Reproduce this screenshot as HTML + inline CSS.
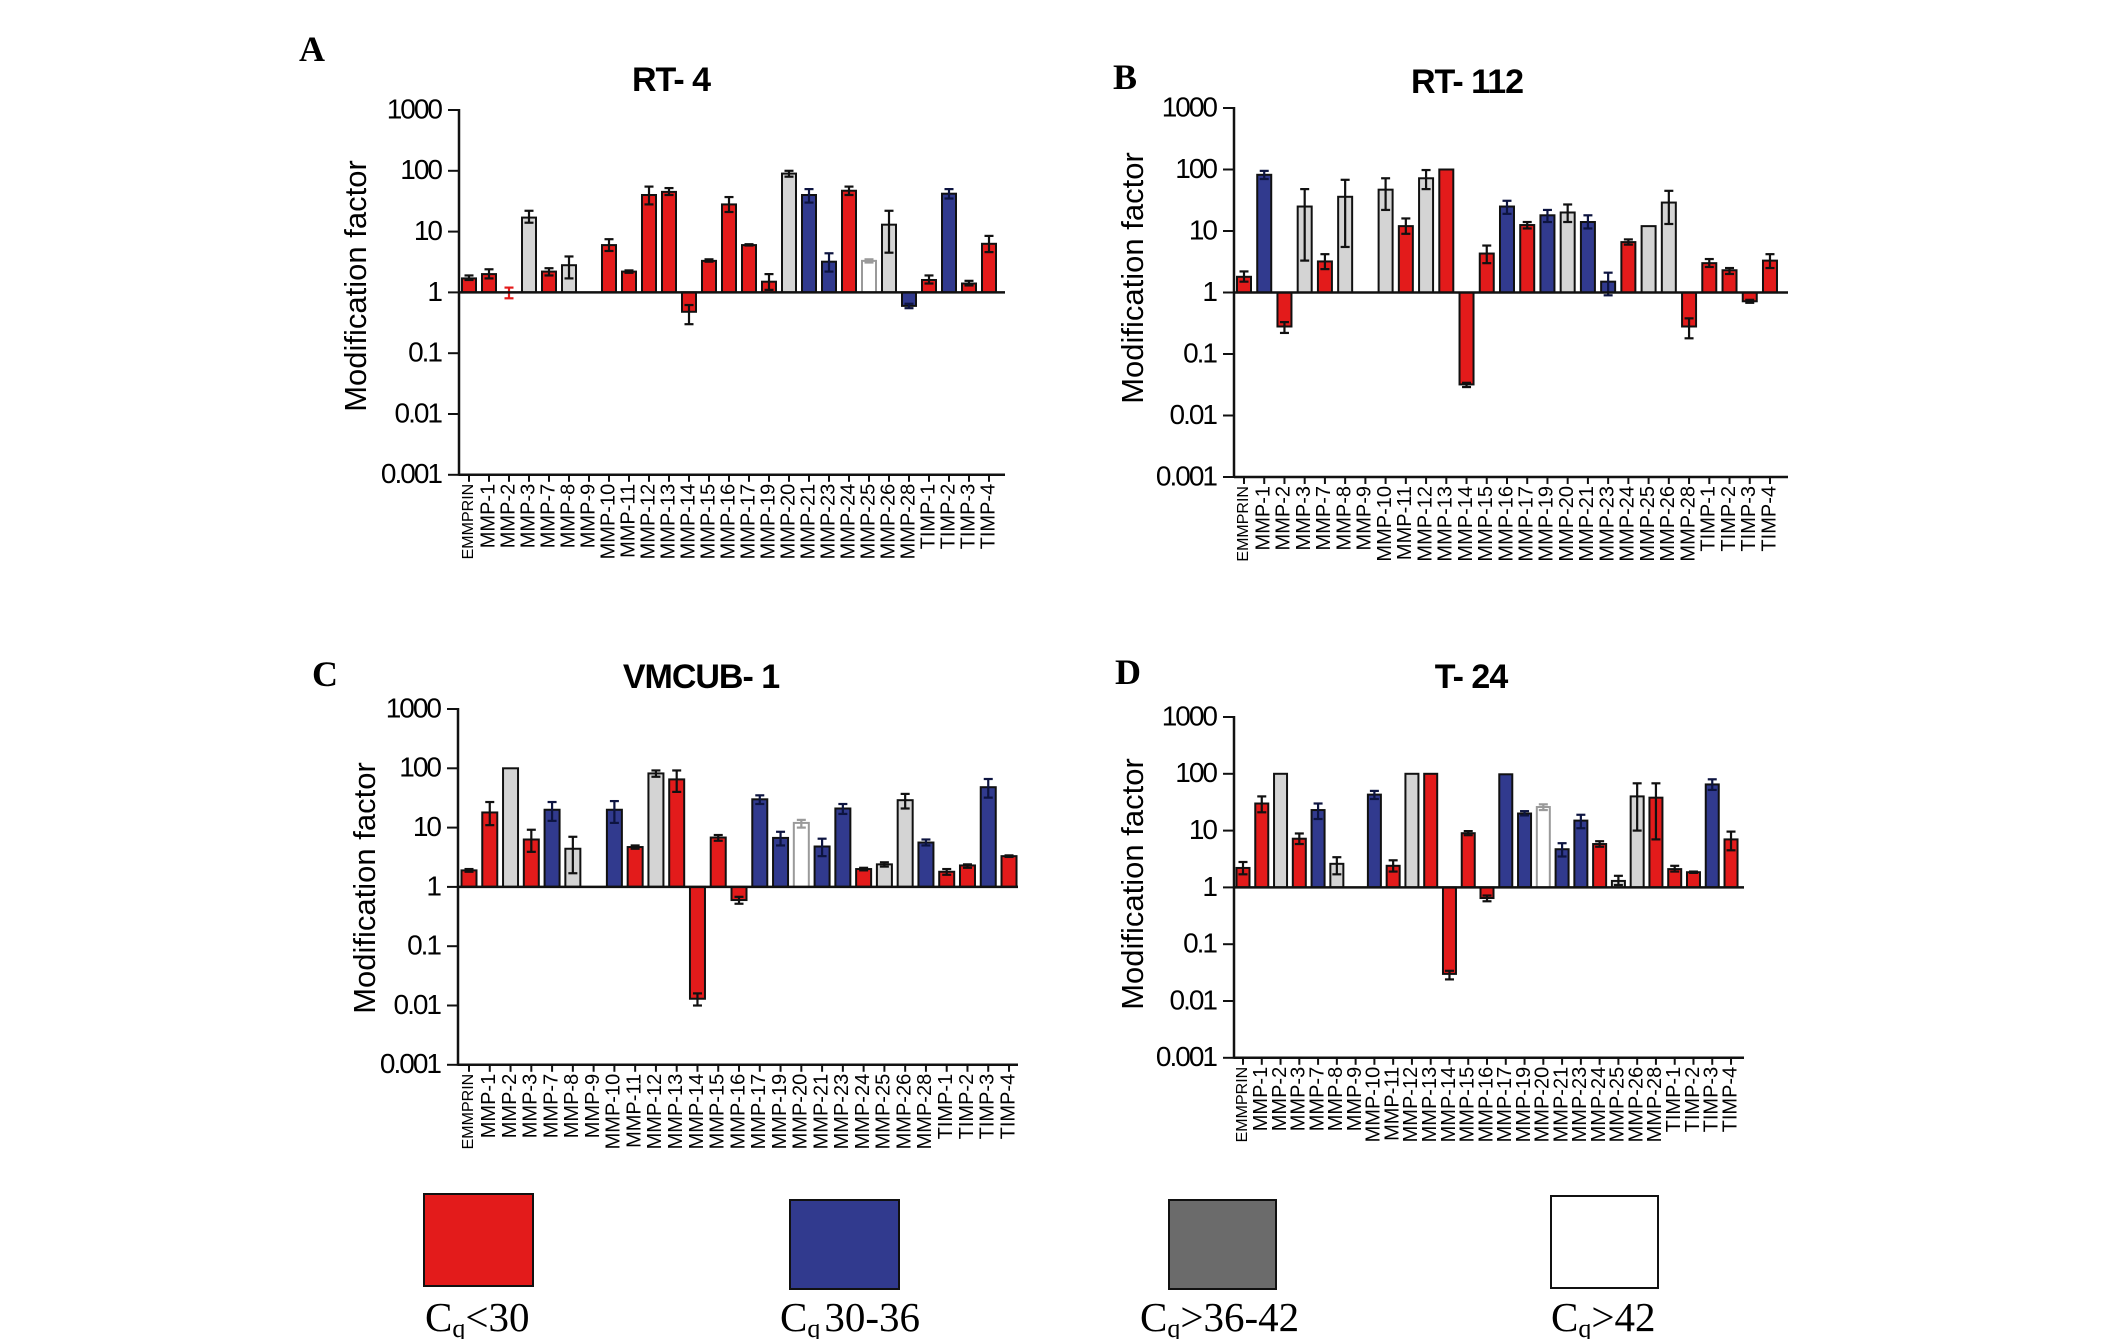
<!DOCTYPE html>
<html><head><meta charset="utf-8">
<style>
html,body{margin:0;padding:0;background:#fff;}
svg{display:block;}
</style></head>
<body>
<svg id="chart" width="2126" height="1339" viewBox="0 0 2126 1339" xmlns="http://www.w3.org/2000/svg">
<g id="panels"></g>
<g font-family="'Liberation Serif', serif" fill="#000">
  <rect x="424" y="1194" width="109" height="92" fill="#e31b1b" stroke="#111" stroke-width="2"/>
  <rect x="790" y="1200" width="109" height="89" fill="#313a8e" stroke="#111" stroke-width="2"/>
  <rect x="1169" y="1200" width="107" height="89" fill="#6b6b6b" stroke="#111" stroke-width="2"/>
  <rect x="1551" y="1196" width="107" height="92" fill="#fff" stroke="#111" stroke-width="2"/>
  <text x="425" y="1331" font-size="41">C<tspan font-size="26" dy="6">q</tspan><tspan dy="-6">&lt;30</tspan></text>
  <text x="780" y="1331" font-size="41">C<tspan font-size="26" dy="6">q</tspan><tspan dy="-6" dx="4">30-36</tspan></text>
  <text x="1140" y="1331" font-size="41">C<tspan font-size="26" dy="6">q</tspan><tspan dy="-6">&gt;36-42</tspan></text>
  <text x="1551" y="1331" font-size="41">C<tspan font-size="26" dy="6">q</tspan><tspan dy="-6">&gt;42</tspan></text>
</g>
</svg>
<script>
const categories = ["EMMPRIN","MMP-1","MMP-2","MMP-3","MMP-7","MMP-8","MMP-9","MMP-10","MMP-11","MMP-12","MMP-13","MMP-14","MMP-15","MMP-16","MMP-17","MMP-19","MMP-20","MMP-21","MMP-23","MMP-24","MMP-25","MMP-26","MMP-28","TIMP-1","TIMP-2","TIMP-3","TIMP-4"];
const yTickValues = [1000,100,10,1,0.1,0.01,0.001];
const yTickLabels = ["1000","100","10","1","0.1","0.01","0.001"];

const valsA = [1.7,2.0,null,17,2.2,2.8,null,6,2.2,40,45,0.48,3.3,28,6,1.5,90,40,3.2,47,3.3,13,0.6,1.6,42,1.4,6.3];
const colsA = ["r","r","r","g","r","g","","r","r","r","r","r","r","r","r","r","g","b","b","r","w","g","b","r","b","r","r"];
const hiA = [1.9,2.4,1.2,22,2.5,3.9,null,7.5,2.3,55,52,0.62,3.5,37,6.2,2,100,50,4.4,55,3.5,22,0.65,1.9,50,1.55,8.5];
const loA = [1.6,1.7,0.8,14,1.9,1.7,null,4.8,2.1,28,40,0.3,3.2,21,5.9,1.1,80,30,2.2,40,3.1,4.5,0.55,1.4,35,1.3,4.6];

const valsB = [1.8,82,0.28,25,3.2,36,null,47,12,72,100,0.032,4.3,25,12.5,18,20,14,1.5,6.6,12,29,0.28,3,2.3,0.72,3.3];
const colsB = ["r","b","r","g","r","g","","g","r","g","r","r","r","b","r","b","g","b","b","r","g","g","r","r","r","r","r"];
const hiB = [2.2,95,0.33,48,4.2,68,null,72,16,98,100,0.034,5.8,31,14,22,27,18,2.1,7.3,12,45,0.38,3.5,2.5,0.76,4.2];
const loB = [1.5,70,0.22,3.3,2.4,5.5,null,22,9,48,100,0.029,3,19,11,14,14,11,0.9,6,12,13,0.18,2.6,2,0.68,2.5];

const valsC = [1.9,18,100,6.3,20,4.4,null,20,4.7,82,65,0.013,6.8,0.6,30,6.7,12,4.8,21,2,2.4,29,5.6,1.8,2.3,48,3.3];
const colsC = ["r","r","g","r","b","g","","b","r","g","r","r","r","r","b","b","w","b","b","r","g","g","b","r","r","b","r"];
const hiC = [2,27,100,9.2,27,7,null,28,5,92,92,0.016,7.5,0.68,35,8.5,13.5,6.5,25,2.1,2.6,37,6.3,2,2.4,66,3.4];
const loC = [1.8,11,100,3.9,13,1.7,null,12,4.4,72,40,0.010,6,0.52,25,5,10,3.3,17,1.9,2.2,21,5,1.6,2.1,32,3.2];

const valsD = [2.2,30,100,7.2,23,2.6,null,43,2.4,100,100,0.03,9,0.65,98,20,26,4.7,15,5.8,1.3,40,38,2.1,1.85,65,7];
const colsD = ["r","r","g","r","b","g","","b","r","g","r","r","r","r","b","b","w","b","b","r","g","g","r","r","r","b","r"];
const hiD = [2.8,40,100,8.9,30,3.4,null,50,3,100,100,0.034,9.8,0.72,98,22,29,6,19,6.5,1.6,68,68,2.4,1.9,80,9.6];
const loD = [1.7,21,100,5.8,16,1.7,null,36,1.9,100,100,0.024,8.3,0.57,98,18.5,23,3.5,11,5.2,1.1,10,7,1.9,1.8,52,4.5];

const panelTitles = ["RT- 4","RT- 112","VMCUB- 1","T- 24"];
const panelLetters = ["A","B","C","D"];

const fills = {r:"#e31b1b", b:"#313a8e", g:"#d4d4d4", w:"#ffffff"};
const strokes = {r:"#111", b:"#111", g:"#111", w:"#9a9a9a"};

const layouts = [
  {ax:459, top:110, dec:60.8, xEnd:1005, x0:469, dx:20, bw:14, tx:671, ty:91, lx:312, ly:61, ylx:358, yly:286},
  {ax:1234, top:108, dec:61.5, xEnd:1788, x0:1244, dx:20.23, bw:14, tx:1467, ty:93, lx:1125, ly:89, ylx:1135, yly:278},
  {ax:458, top:709, dec:59.3, xEnd:1018, x0:469, dx:20.77, bw:15, tx:701, ty:688, lx:325, ly:686, ylx:367, yly:888},
  {ax:1234, top:717, dec:56.8, xEnd:1744, x0:1243, dx:18.77, bw:13, tx:1471, ty:688, lx:1128, ly:684, ylx:1135, yly:884}
];
const panelData = [[valsA,colsA,hiA,loA],[valsB,colsB,hiB,loB],[valsC,colsC,hiC,loC],[valsD,colsD,hiD,loD]];

const NS = "http://www.w3.org/2000/svg";
function mk(tag, attrs, parent){
  const e = document.createElementNS(NS, tag);
  for (const k in attrs) e.setAttribute(k, attrs[k]);
  parent.appendChild(e);
  return e;
}
const root = document.getElementById("panels");

layouts.forEach((L, p) => {
  const [vals, cols, hi, lo] = panelData[p];
  const yScale = v => L.top + (3 - Math.log10(v)) * L.dec;
  const xScale = i => L.x0 + i * L.dx;
  const base = yScale(1);
  const bottom = yScale(0.001);

  const g = mk("g", {}, root);
  
  

  const letter = mk("text", {x:L.lx, y:L.ly, "font-family":"'Liberation Serif', serif", "font-weight":"bold", "font-size":"36", "text-anchor":"middle"}, g);
  letter.textContent = panelLetters[p];
  
  

  const title = mk("text", {x:L.tx, y:L.ty, "font-family":"'Liberation Sans', sans-serif", "font-weight":"bold", "font-size":"34", "letter-spacing":"-1", "text-anchor":"middle"}, g);
  title.textContent = panelTitles[p];
  
  

  const yl = mk("text", {x:0, y:0, transform:`translate(${L.ylx},${L.yly}) rotate(-90)`, "font-family":"'Liberation Sans', sans-serif", "font-size":"31", "text-anchor":"middle", "dominant-baseline":"middle"}, g);
  yl.textContent = "Modification factor";
  
  

  const yax = mk("line", {x1:L.ax, y1:L.top - 1, x2:L.ax, y2:bottom + 1, stroke:"#111", "stroke-width":2.5}, g);
  
  
  yTickValues.forEach((v, k) => {
    const y = yScale(v);
    const t = mk("line", {x1:L.ax - 11, y1:y, x2:L.ax, y2:y, stroke:"#111", "stroke-width":2}, g);
    
    
    const tl = mk("text", {x:L.ax - 18, y:y + 1, "font-family":"'Liberation Sans', sans-serif", "font-size":"28", "letter-spacing":"-2", "text-anchor":"end", "dominant-baseline":"middle"}, g);
    tl.textContent = yTickLabels[k];
    
    
  });
  const bax = mk("line", {x1:L.ax, y1:bottom, x2:L.xEnd, y2:bottom, stroke:"#111", "stroke-width":2.5}, g);
  
  

  categories.forEach((c, i) => {
    const x = xScale(i);
    const t = mk("line", {x1:x, y1:bottom, x2:x, y2:bottom + 7, stroke:"#111", "stroke-width":2}, g);
    
    
    const fs = c === "EMMPRIN" ? 16 : 20;
    const lab = mk("text", {x:0, y:0, transform:`translate(${x},${bottom + 9}) rotate(-90)`, "font-family":"'Liberation Sans', sans-serif", "font-size":fs, "text-anchor":"end", "dominant-baseline":"middle"}, g);
    lab.textContent = c;
    
    
  });

  vals.forEach((v, i) => {
    const x = xScale(i);
    const col = cols[i];
    if (v !== null && col) {
      const yv = yScale(v);
      const y0 = Math.min(yv, base), h = Math.abs(yv - base);
      const b = mk("rect", {x:x - L.bw/2, y:y0, width:L.bw, height:Math.max(h, 1), fill:fills[col], stroke:strokes[col], "stroke-width":2}, g);
      
      
    }
    if (hi[i] !== null && lo[i] !== null && hi[i] !== lo[i]) {
      const yh = yScale(hi[i]), ylo = yScale(lo[i]);
      const ec = (v === null) ? "#e31b1b" : (col === "w" ? "#9a9a9a" : (col === "b" ? "#0d1440" : "#111"));
      const eg = mk("g", {stroke:ec, "stroke-width":2.2}, g);
      
      
      mk("line", {x1:x, y1:yh, x2:x, y2:ylo}, eg);
      mk("line", {x1:x - 4.5, y1:yh, x2:x + 4.5, y2:yh}, eg);
      mk("line", {x1:x - 4.5, y1:ylo, x2:x + 4.5, y2:ylo}, eg);
    }
  });

  const bl = mk("line", {x1:L.ax, y1:base, x2:L.xEnd, y2:base, stroke:"#111", "stroke-width":2.5}, g);
  
  
});
</script>
</body></html>
